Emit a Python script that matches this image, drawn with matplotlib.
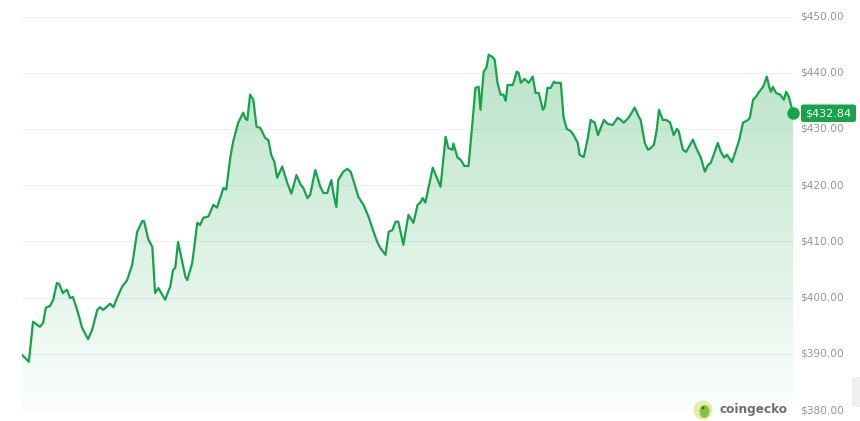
import numpy as np
import matplotlib.pyplot as plt
from matplotlib.patches import Ellipse, FancyBboxPatch

# hours since start of the 7-day window
hours = [0, 1.5, 2.4, 3.9, 4.6, 5.2, 6.1, 6.8, 7.6, 8.1, 8.9, 9.8, 10.5, 11.1, 12.2,
         13.1, 14.4, 15.3, 16.4, 17.0, 17.7, 19.2, 19.9, 20.7, 21.8, 22.9, 24.0, 25.1,
         26.2, 26.6, 27.5, 28.4, 29.0, 29.7, 31.2, 31.9, 32.3, 32.9, 33.4, 34.0, 34.9,
         35.6, 36.0, 37.1, 38.2, 38.8, 39.5, 40.6, 41.7, 42.5, 43.9, 44.5, 45.4, 46.0,
         47.1, 48.2, 48.7, 49.1, 49.7, 50.4, 51.1, 51.9, 53.0, 53.7, 54.3, 55.0, 55.6,
         56.7, 57.8, 58.7, 59.8, 60.7, 61.3, 62.2, 62.8, 63.9, 65.0, 65.7, 66.5, 67.4,
         67.9, 68.5, 68.9, 70.0, 70.9, 71.6, 72.2, 73.3, 74.4, 75.5, 76.6, 77.5, 78.1,
         79.2, 79.9, 80.7, 81.4, 82.0, 83.1, 84.2, 85.3, 86.2, 86.8, 87.3, 87.9, 89.5,
         90.3, 91.2, 92.3, 92.9, 93.8, 94.0, 94.9, 95.6, 96.4, 97.3, 98.2, 98.8, 99.5,
         99.9, 100.6, 101.2, 101.7, 102.5, 103.0, 103.6, 104.3, 104.9, 105.4, 105.8,
         106.9, 107.1, 107.8, 108.2, 108.7, 109.5, 110.4, 111.3, 111.9, 112.6, 113.5,
         113.9, 114.5, 115.2, 115.9, 116.3, 117.4, 118.0, 118.7, 119.6, 120.2, 121.1,
         121.5, 122.4, 123.3, 123.9, 124.8, 125.5, 126.8, 127.6, 128.7, 129.8, 130.5,
         131.1, 132.2, 133.5, 134.2, 134.8, 135.7, 136.4, 137.0, 137.7, 138.3, 138.8,
         139.6, 140.3, 141.2, 142.0, 142.7, 143.1, 144.0, 144.7, 146.2, 146.8, 147.9,
         148.8, 149.5, 150.1, 150.8, 151.6, 152.3, 153.0, 153.6, 154.7, 155.6, 156.3,
         157.1, 158.2, 158.6, 159.3, 159.9, 160.6, 161.5, 162.3, 162.8, 163.2, 163.6,
         164.3, 165.2, 166.0, 166.5, 167.1, 168.0]

price = [389.8, 388.6, 395.7, 394.8, 395.5, 398.2, 398.5, 399.6, 402.6, 402.4, 400.8,
         401.4, 399.9, 400.1, 397.3, 394.6, 392.6, 394.3, 397.8, 398.3, 397.8, 398.9,
         398.3, 399.9, 401.9, 403.1, 405.8, 411.7, 413.6, 413.6, 410.4, 409.0, 400.8,
         401.7, 399.6, 401.2, 401.9, 404.9, 405.3, 409.9, 406.4, 403.7, 403.1, 406.2,
         413.3, 412.9, 414.2, 414.4, 416.5, 416.0, 419.5, 419.2, 425.0, 427.7, 431.1,
         432.9, 431.8, 431.6, 436.1, 435.2, 430.4, 430.2, 428.4, 428.0, 425.4, 424.1,
         421.3, 423.3, 420.4, 418.5, 421.8, 420.1, 419.5, 417.7, 418.3, 422.7, 419.7,
         418.6, 418.6, 420.9, 418.3, 416.1, 420.9, 422.4, 422.9, 422.4, 420.9, 417.9,
         416.5, 414.4, 411.7, 409.7, 408.8, 407.6, 411.7, 412.0, 413.5, 413.5, 409.4,
         414.7, 413.3, 416.5, 416.9, 417.7, 416.9, 423.1, 421.5, 419.7, 428.6, 426.6,
         426.3, 427.4, 424.9, 424.5, 423.4, 423.4, 431.6, 437.3, 437.5, 433.4, 440.2,
         440.9, 443.2, 442.8, 442.3, 438.2, 436.1, 436.1, 435.0, 437.8, 437.8, 438.2,
         440.2, 440.0, 438.2, 438.9, 438.2, 439.3, 436.4, 436.4, 433.4, 433.9, 437.3,
         437.3, 438.4, 438.2, 438.2, 432.1, 430.0, 429.6, 428.9, 427.5, 425.4, 425.0,
         428.4, 431.6, 431.1, 428.9, 431.6, 430.9, 430.7, 432.0, 431.6, 431.1, 432.0,
         433.8, 432.5, 431.6, 427.5, 426.3, 426.6, 427.2, 429.8, 433.4, 431.6, 431.6,
         431.2, 428.9, 430.0, 429.6, 426.3, 425.9, 428.1, 426.8, 424.9, 422.4, 423.6,
         424.0, 425.6, 427.5, 425.9, 424.9, 425.4, 424.1, 426.3, 428.1, 431.1, 431.6,
         432.0, 435.2, 435.7, 436.6, 437.5, 439.3, 437.5, 436.6, 437.5, 436.4, 436.1,
         435.2, 436.6, 435.7, 432.84]

y_ticks = [380, 390, 400, 410, 420, 430, 440, 450]

green = '#17a34a'
x = np.array(hours)
y = np.array(price)
ymin, ymax = 380, 450
W, H = 860, 421

fig = plt.figure(figsize=(8.6, 4.21), dpi=100)
ax = fig.add_axes([22 / W, 11 / H, 771 / W, 393.5 / H])
ax.set_xlim(0, 168)
ax.set_ylim(ymin, ymax)
ax.axis('off')

for t in y_ticks:
    ax.axhline(t, color='#f1f1f1', lw=1, zorder=0)

# gradient fill under the line
poly = ax.fill_between(x, y, ymin, color='none', lw=0)
grad = np.linspace(0.02, 0.30, 256).reshape(-1, 1)
rgba = np.zeros((256, 1, 4))
rgba[..., 0] = 0.09
rgba[..., 1] = 0.64
rgba[..., 2] = 0.29
rgba[..., 3] = grad
img = ax.imshow(rgba, extent=[0, 168, ymin, y.max()], origin='lower',
                aspect='auto', zorder=1)
img.set_clip_path(poly.get_paths()[0], transform=ax.transData)

ax.plot(x, y, color=green, lw=1.6, zorder=3, solid_joinstyle='round')
ax.plot(x[-1], y[-1], 'o', color=green, ms=8, zorder=4, clip_on=False)

# right side price labels
trans = ax.get_yaxis_transform()
for t in y_ticks:
    ax.text(1.0095, t, f'${t:.2f}', transform=trans, ha='left', va='center',
            fontsize=7.6, color='#959595', clip_on=False)

# current price tag
tag_y = price[-1]
box = FancyBboxPatch((801 / W, (H - 122) / H), 55 / W, 17.5 / H,
                     boxstyle='round,pad=0,rounding_size=0.004',
                     transform=fig.transFigure, facecolor=green, edgecolor='none')
fig.patches.append(box)
fig.text(828.5 / W, (H - 113) / H, f'${tag_y:.2f}', ha='center', va='center',
         fontsize=8, color='white')

# coingecko watermark
fig.patches.append(Ellipse((703 / W, 11 / H), 19 / W, 19 / H, transform=fig.transFigure,
                           facecolor='#e3efa6', edgecolor='none'))
fig.patches.append(Ellipse((704.5 / W, 9.5 / H), 10 / W, 13 / H, transform=fig.transFigure,
                           facecolor='#86c440', edgecolor='none'))
fig.patches.append(Ellipse((703 / W, 13 / H), 3 / W, 3 / H, transform=fig.transFigure,
                           facecolor='#3d6b1f', edgecolor='none'))
fig.text(719 / W, 11 / H, 'coingecko', ha='left', va='center', fontsize=8.7,
         fontweight='bold', color='#707070')

# faint scrollbar at right edge
fig.patches.append(FancyBboxPatch((852 / W, 14 / H), 10 / W, 30 / H,
                                  boxstyle='round,pad=0,rounding_size=0.004',
                                  transform=fig.transFigure, facecolor='#f0f0f2',
                                  edgecolor='none'))

fig.savefig('out.png', dpi=100, facecolor='white')
